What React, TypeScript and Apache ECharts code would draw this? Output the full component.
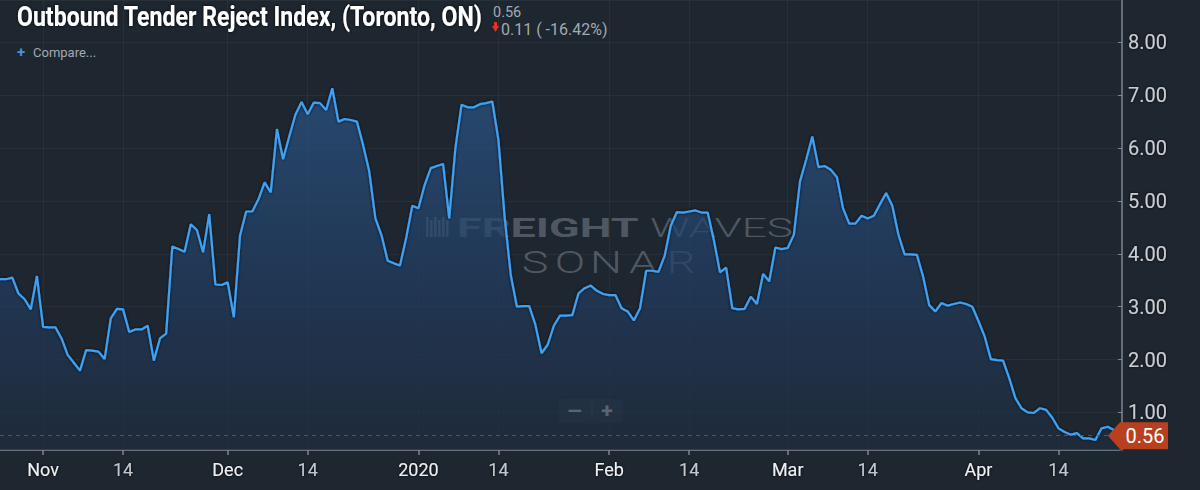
import * as echarts from "echarts";
import { useEffect, useRef } from "react";

// daily index values, first day 2019-10-25
const startDay = [2019, 9, 25];
const values = [
  3.52, 3.52, 3.55, 3.25, 3.14, 2.95, 3.58, 2.62, 2.61, 2.61, 2.4, 2.09, 1.94, 1.79, 2.18, 2.17,
  2.15, 2.01, 2.78, 2.96, 2.95, 2.52, 2.57, 2.57, 2.64, 1.98, 2.4, 2.49, 4.14, 4.09, 4.04, 4.56, 4.45,
  4.03, 4.75, 3.42, 3.41, 3.46, 2.8, 4.34, 4.8, 4.8, 5.03, 5.35, 5.16, 6.36, 5.79, 6.22, 6.63, 6.87,
  6.64, 6.86, 6.85, 6.72, 7.13, 6.5, 6.55, 6.53, 6.5, 6.06, 5.56, 4.67, 4.35, 3.87, 3.82, 3.78, 4.3,
  4.91, 4.86, 5.3, 5.62, 5.66, 5.7, 4.67, 6.0, 6.82, 6.77, 6.77, 6.83, 6.85, 6.88, 6.15, 4.7, 3.6,
  3.0, 3.01, 3.01, 2.66, 2.12, 2.28, 2.64, 2.83, 2.83, 2.84, 3.25, 3.35, 3.4, 3.3, 3.24, 3.22, 3.22,
  2.97, 2.91, 2.74, 2.97, 3.68, 3.68, 3.66, 3.96, 4.53, 4.79, 4.78, 4.8, 4.82, 4.78, 4.78, 4.26, 3.65,
  3.74, 2.97, 2.95, 2.96, 3.19, 3.05, 3.62, 3.48, 4.12, 4.09, 4.11, 4.36, 5.37, 5.78, 6.22, 5.64,
  5.66, 5.59, 5.45, 4.86, 4.57, 4.57, 4.72, 4.67, 4.72, 4.94, 5.15, 4.91, 4.36, 3.99, 3.99, 3.98,
  3.57, 3.03, 2.91, 3.07, 3.02, 3.05, 3.08, 3.05, 3.0, 2.73, 2.44, 2.01, 1.99, 1.98, 1.65, 1.27, 1.08,
  1.0, 0.99, 1.08, 1.05, 0.9, 0.7, 0.63, 0.58, 0.61, 0.51, 0.51, 0.48, 0.7, 0.73, 0.67, 0.56,
];
const monthLabels = ["2020", "Feb", "Mar", "Apr", "May", "Jun", "Jul", "Aug", "Sep", "Oct", "Nov", "Dec"];
const midMonthLabel = "14";
const titleText = "Outbound Tender Reject Index, (Toronto, ON)";
const changeText = "0.11 ( -16.42%)";

const dates = values.map((_, i) => {
  const d = new Date(Date.UTC(startDay[0], startDay[1], startDay[2] + i));
  return d.toISOString().slice(0, 10);
});

const isTickDay = (s: string) => {
  const day = Number(s.slice(8, 10));
  return day === 1 || day === 14;
};

const labelFor = (s: string) => {
  const day = Number(s.slice(8, 10));
  if (day === 14) return midMonthLabel;
  if (day === 1) return monthLabels[Number(s.slice(5, 7)) - 1];
  return "";
};

const FONT = "Roboto, 'Noto Sans', sans-serif";
const WM = "rgba(150,160,172,0.42)";

export default function App() {
  const chartRef = useRef<HTMLDivElement>(null);

  useEffect(() => {
    const chart = echarts.init(chartRef.current, null, { renderer: "svg" });
    const last = values[values.length - 1];

    const sonarX = [535, 570, 606, 643, 681];

    const option = {
      animation: false,
      backgroundColor: "#1e2630",
      grid: { left: 0, right: 80, top: 0, bottom: 40 },
      xAxis: {
        type: "category",
        data: dates,
        boundaryGap: false,
        axisLine: { lineStyle: { color: "#7f868e", width: 1.5 } },
        axisTick: {
          show: true,
          length: 5,
          interval: (i: number, v: string) => isTickDay(v),
          lineStyle: { color: "#7f868e", width: 1.5 },
        },
        axisLabel: {
          interval: (i: number, v: string) => isTickDay(v),
          formatter: (v: string) => labelFor(v),
          margin: 10,
          fontSize: 18,
          fontFamily: FONT,
          color: (v: string) => (labelFor(v) === midMonthLabel ? "#c3c7cc" : "#eef0f2"),
          textShadowColor: "rgba(0,0,0,0.9)",
          textShadowBlur: 3,
        },
        splitLine: {
          show: true,
          interval: (i: number, v: string) => isTickDay(v),
          lineStyle: { color: "rgba(255,255,255,0.045)" },
        },
      },
      yAxis: {
        type: "value",
        position: "right",
        offset: 2,
        min: 0.29,
        max: 8.8,
        splitNumber: 8,
        axisLine: { show: true, lineStyle: { color: "#7f868e", width: 1.5 } },
        axisTick: { show: true, inside: true, length: 4, lineStyle: { color: "#7f868e" } },
        axisLabel: {
          margin: 6,
          fontSize: 20,
          fontFamily: FONT,
          color: "#c9cdd2",
          showMinLabel: false,
          showMaxLabel: false,
          formatter: (v: number) => v.toFixed(2),
          textShadowColor: "rgba(0,0,0,0.9)",
          textShadowBlur: 3,
        },
        splitLine: { lineStyle: { color: "rgba(255,255,255,0.045)" } },
      },
      graphic: [
        {
          type: "text",
          x: 17,
          y: 2,
          scaleX: 0.826,
          style: {
            text: titleText,
            fill: "#ffffff",
            font: `bold 28px ${FONT}`,
            textShadowColor: "rgba(0,0,0,0.95)",
            textShadowBlur: 3,
          },
        },
        {
          type: "text",
          x: 493,
          y: 12,
          style: {
            text: last.toFixed(2),
            fill: "#a3a9b0",
            font: `14.5px ${FONT}`,
            verticalAlign: "middle",
            lineHeight: 14,
          },
        },
        {
          type: "polygon",
          shape: { points: [[492, 26], [499, 26], [495.5, 32]] },
          style: { fill: "#e0342b" },
        },
        {
          type: "rect",
          shape: { x: 494, y: 22, width: 3, height: 5 },
          style: { fill: "#e0342b" },
        },
        {
          type: "text",
          x: 501,
          y: 29,
          style: {
            text: changeText,
            fill: "#a3a9b0",
            font: `16px ${FONT}`,
            verticalAlign: "middle",
            lineHeight: 14,
          },
        },
        {
          type: "text",
          x: 17,
          y: 44,
          style: { text: "+", fill: "#4a8fe0", font: `bold 15px ${FONT}` },
        },
        {
          type: "text",
          x: 33,
          y: 46,
          style: { text: "Compare...", fill: "#a3a9b0", font: `13px ${FONT}` },
        },
        // watermark
        {
          type: "group",
          silent: true,
          children: [
            ...[0, 4, 8, 12, 16, 20].map((dx, j) => ({
              type: "rect",
              shape: { x: 426 + dx, y: 217 + (j % 2) * 3, width: 2.6, height: 20 - (j % 2) * 3 },
              style: { fill: WM },
            })),
            {
              type: "text",
              x: 457,
              y: 228,
              scaleX: 1.8,
              style: {
                text: "FREIGHT",
                fill: WM,
                font: `bold 25px ${FONT}`,
                verticalAlign: "middle",
              },
            },
            {
              type: "text",
              x: 650,
              y: 228,
              scaleX: 1.7,
              style: {
                text: "WAVES",
                fill: WM,
                font: `300 26px ${FONT}`,
                verticalAlign: "middle",
              },
            },
            ...["S", "O", "N", "A", "R"].map((ch, j) => ({
              type: "text",
              x: sonarX[j],
              y: 262,
              scaleX: 1.45,
              style: {
                text: ch,
                fill: WM,
                font: `300 31px ${FONT}`,
                align: "center",
                verticalAlign: "middle",
              },
            })),
          ],
        },
        // zoom buttons
        {
          type: "rect",
          shape: { x: 559, y: 399, width: 64, height: 24, r: 3 },
          style: { fill: "#29313b" },
        },
        {
          type: "line",
          shape: { x1: 592, y1: 403, x2: 592, y2: 419 },
          style: { stroke: "#454d57", lineWidth: 1 },
        },
        {
          type: "text",
          x: 575,
          y: 411,
          scaleX: 1.4,
          style: { text: "−", fill: "#dfe2e6", font: `bold 21px ${FONT}`, align: "center", verticalAlign: "middle" },
        },
        {
          type: "text",
          x: 607,
          y: 411,
          style: { text: "+", fill: "#dfe2e6", font: `bold 21px ${FONT}`, align: "center", verticalAlign: "middle" },
        },
      ],
      series: [
        {
          type: "line",
          data: values,
          symbol: "none",
          lineStyle: {
            color: "#3fa0f2",
            width: 2.2,
            shadowColor: "rgba(0,0,0,0.85)",
            shadowBlur: 3,
          },
          areaStyle: {
            color: new echarts.graphic.LinearGradient(0, 0, 0, 1, [
              { offset: 0, color: "#2b5789" },
              { offset: 0.5, color: "#223f65" },
              { offset: 1, color: "#1f2b3d" },
            ]),
          },
          markLine: {
            silent: true,
            symbol: ["none", "none"],
            label: { show: false },
            lineStyle: { color: "#8e3f30", type: [4, 4], width: 1 },
            data: [{ yAxis: last }],
          },
          markPoint: {
            silent: true,
            symbol: "path://M0,13.5 L12,0 L60,0 L60,27 L12,27 Z",
            symbolSize: [60, 27],
            symbolKeepAspect: false,
            symbolOffset: [18, 0],
            itemStyle: { color: "#b9401f" },
            label: {
              show: true,
              position: "inside",
              offset: [7, 0],
              color: "#ffffff",
              fontSize: 20,
              fontFamily: FONT,
              formatter: (p: any) => Number(p.value).toFixed(2),
            },
            data: [{ coord: [dates.length - 1, last], value: last }],
          },
        },
      ],
    };

    chart.setOption(option);
    return () => {
      chart.dispose();
    };
  }, []);

  return (
    <div
      ref={chartRef}
      style={{ position: "fixed", left: 0, top: 0, width: 1200, height: 490, background: "#1e2630" }}
    />
  );
}
